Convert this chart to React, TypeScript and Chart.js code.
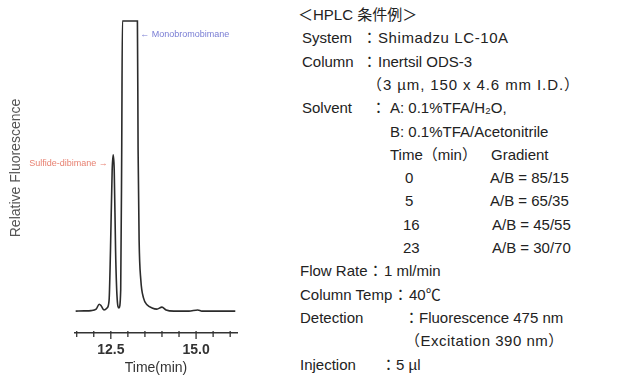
import React, { useEffect, useRef } from "react";
import { Chart, registerables } from "chart.js";

Chart.register(...registerables);

// ---- chromatogram data ----
const timeMin = [
  11.47, 11.72, 11.92, 12.07, 12.16, 12.22, 12.3, 12.39, 12.45, 12.49, 12.54, 12.57,
  12.6, 12.64, 12.68, 12.74, 12.79, 12.82, 12.84, 13.28, 13.3, 13.33, 13.38, 13.46,
  13.57, 13.71, 13.85, 14.0, 14.12, 14.35, 14.79, 15.05, 15.17, 15.52, 16.15,
];
const fluorescence = [
  0.3, 0.4, 0.5, 1.0, 2.7, 2.1, 0.7, 1.4, 4.1, 21, 48.8, 54,
  48.8, 21, 5.8, 1.4, 7.6, 55.7, 100, 100, 55.7, 24.7, 11, 4.8,
  2.4, 1.4, 1.0, 1.7, 0.7, 0.3, 0.3, 0.7, 0.3, 0.3, 0.3,
];
const majorTicks = [12.5, 15.0];
const xTitle = "Time(min)";
const yTitle = "Relative Fluorescence";
const peakLabels = ["Sulfide-dibimane →", "← Monobromobimane"];
const peakLabelTime = [12.41, 13.36];
const peakLabelLevel = [51, 95.5];
const peakLabelColors = ["rgba(225,95,75,0.8)", "rgba(85,90,200,0.8)"];
const peakLabelAlign: CanvasTextAlign[] = ["right", "left"];

// ---- HPLC conditions text: [text, x, letterSpacing] per line ----
const conditionLines: [string, number, number?][][] = [
  [["＜HPLC 条件例＞", 298]],
  [["System", 302], ["：", 362], ["Shimadzu LC-10A", 378, 0.6]],
  [["Column", 302], ["：", 362], ["Inertsil ODS-3", 378]],
  [["（3 µm, 150 x 4.6 mm I.D.）", 367, 0.9]],
  [["Solvent", 302], ["：", 371], ["A: 0.1%TFA/H₂O,", 390]],
  [["B: 0.1%TFA/Acetonitrile", 390]],
  [["Time（min）", 390], ["Gradient", 491]],
  [["0", 405], ["A/B = 85/15", 490]],
  [["5", 405], ["A/B = 65/35", 490]],
  [["16", 403], ["A/B = 45/55", 492]],
  [["23", 403], ["A/B = 30/70", 492]],
  [["Flow Rate", 300], ["：", 368], ["1 ml/min", 384]],
  [["Column Temp", 300], ["：", 393], ["40℃", 409]],
  [["Detection", 300], ["：", 404], ["Fluorescence 475 nm", 419]],
  [["（Excitation 390 nm）", 405, 0.5]],
  [["Injection", 300], ["：", 381], ["5 µl", 396]],
];

const FONT = "'Liberation Sans', Arial, 'Noto Sans CJK JP', sans-serif";

const near = (a: number, b: number) => Math.abs(a - b) < 1e-6;

const decorPlugin = {
  id: "decor",
  afterDraw(chart: any) {
    const ctx = chart.ctx as CanvasRenderingContext2D;
    const xs = chart.scales.x;
    const ys = chart.scales.y;
    const axisY = chart.chartArea.bottom;
    ctx.save();
    // tick marks crossing the axis line
    ctx.strokeStyle = "#333";
    ctx.lineWidth = 1.3;
    xs.ticks.forEach((t: any) => {
      const px = xs.getPixelForValue(t.value);
      const major = majorTicks.some((m) => near(m, t.value));
      ctx.beginPath();
      ctx.moveTo(px, axisY - 2);
      ctx.lineTo(px, axisY + (major ? 6 : 4));
      ctx.stroke();
    });
    // peak labels
    ctx.font = `9px ${FONT}`;
    ctx.textBaseline = "middle";
    peakLabels.forEach((txt, i) => {
      ctx.fillStyle = peakLabelColors[i];
      ctx.textAlign = peakLabelAlign[i];
      ctx.fillText(txt, xs.getPixelForValue(peakLabelTime[i]), ys.getPixelForValue(peakLabelLevel[i]));
    });
    // y title
    ctx.translate(16, 168);
    ctx.rotate(-Math.PI / 2);
    ctx.font = `14px ${FONT}`;
    ctx.fillStyle = "#555";
    ctx.textAlign = "center";
    ctx.fillText(yTitle, 0, 0);
    ctx.restore();
  },
};

function ChromChart() {
  const ref = useRef<HTMLCanvasElement | null>(null);
  useEffect(() => {
    if (!ref.current) return;
    const chart = new Chart(ref.current, {
      type: "line",
      data: {
        datasets: [
          {
            data: timeMin.map((t, i) => ({ x: t, y: fluorescence[i] })),
            borderColor: "#2b2b2b",
            borderWidth: 1.6,
            pointRadius: 0,
            cubicInterpolationMode: "monotone",
            fill: false,
          },
        ],
      },
      options: {
        animation: false,
        responsive: false,
        devicePixelRatio: 1,
        layout: { padding: { left: 75, right: 23, top: 20, bottom: 0 } },
        plugins: { legend: { display: false }, tooltip: { enabled: false } },
        scales: {
          x: {
            type: "linear",
            min: 11.45,
            max: 16.2,
            afterFit: (s: any) => {
              s.height = 43;
            },
            border: { display: true, color: "#333", width: 1.5 },
            grid: { display: true, drawOnChartArea: false, drawTicks: true, tickLength: 6, tickColor: "rgba(0,0,0,0)" },
            ticks: {
              stepSize: 0.5,
              includeBounds: false,
              autoSkip: false,
              maxRotation: 0,
              padding: 3,
              color: "#333",
              font: { family: FONT, size: 14, weight: "bold" },
              callback: (v: any) => {
                const n = Number(v);
                return majorTicks.some((m) => near(m, n)) ? n.toFixed(1) : "";
              },
            },
            title: {
              display: true,
              text: xTitle,
              color: "#333",
              font: { family: FONT, size: 14 },
              padding: { top: 0, bottom: -1 },
            },
          },
          y: {
            type: "linear",
            min: -7.2,
            max: 100.34,
            display: false,
          },
        },
      },
      plugins: [decorPlugin],
    } as any);
    return () => chart.destroy();
  }, []);
  return <canvas ref={ref} width={260} height={376} style={{ position: "absolute", left: 0, top: 0, display: "block" }} />;
}

export default function App() {
  return (
    <div style={{ position: "fixed", left: 0, top: 0, width: 630, height: 376, background: "#fff", overflow: "hidden" }}>
      <ChromChart />
      {conditionLines.map((line, i) =>
        line.map(([txt, x, ls], j) => (
          <span
            key={`${i}-${j}`}
            style={{
              position: "absolute",
              left: x,
              top: 15 + 23.3 * i - 10,
              lineHeight: "20px",
              fontSize: 15,
              fontFamily: FONT,
              color: "#222",
              whiteSpace: "pre",
              letterSpacing: ls ? `${ls}px` : undefined,
            }}
          >
            {txt}
          </span>
        ))
      )}
    </div>
  );
}
